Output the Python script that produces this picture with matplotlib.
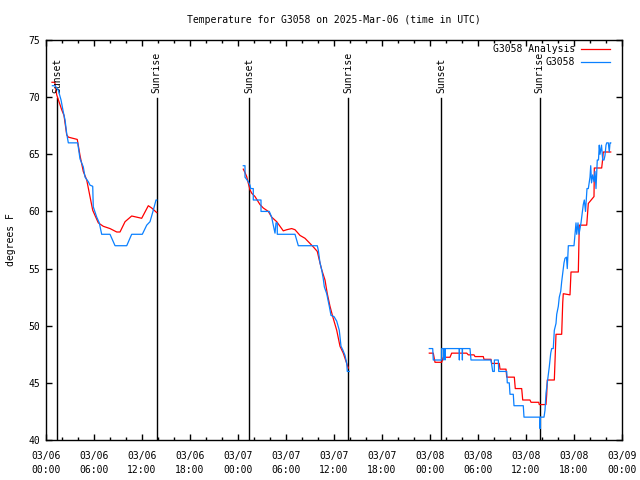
import numpy as np
import matplotlib
matplotlib.use("Agg")
import matplotlib.pyplot as plt
from matplotlib.ticker import MultipleLocator

# hours since 03/06 00:00 UTC
ana_hours = [
    0.75, 1.1, 1.34, 1.96, 2.25, 2.59, 2.79, 3.91, 4.25, 4.66, 5.09, 5.5, 5.84, 6.54, 7.16, 8.0,
    8.84, 9.25, 9.88, 10.71, 11.34, 11.96, 12.79, 13.21, 13.84,
    np.nan,
    24.66, 24.875, 25.09, 25.29, 25.5, 25.71, 26.125, 26.75, 27.16, 27.79, 28.21, 28.84, 29.25,
    29.66, 30.09, 30.71, 31.125, 31.75, 32.375, 32.79, 33.41, 33.91, 34.16, 34.46, 34.875, 35.16,
    35.5, 35.84, 36.34, 36.75, 37.16, 37.59, 37.79,
    np.nan,
    47.91, 48.41, 48.625, 49.46, 49.66, 50.5, 50.71, 52.59, 52.79, 53.5, 53.625, 54.66, 54.75,
    55.625, 55.71, 56.66, 56.75, 57.5, 57.59, 58.54, 58.66, 59.46, 59.59, 60.5, 60.625, 61.59,
    61.66, 62.5, 62.59, 62.66, 63.54, 63.75, 64.46, 64.59, 64.66, 65.5, 65.625, 66.54, 66.66,
    67.59, 67.79, 68.5, 68.54, 69.46, 69.54, 69.66, 70.59,
]
ana_temp = [
    71.3, 71.3, 70.2, 68.9, 68.4, 66.7, 66.5, 66.3, 64.9, 63.5, 62.75, 61.3, 60.1, 59.0, 58.7, 58.5,
    58.2, 58.2, 59.1, 59.6, 59.5, 59.4, 60.5, 60.3, 59.9,
    np.nan,
    63.7, 63.4, 63.04, 62.46, 61.9, 61.6, 61.3, 60.6, 60.3, 60.0, 59.5, 59.1, 58.7,
    58.3, 58.4, 58.5, 58.4, 57.9, 57.65, 57.35, 56.9, 56.5, 55.75, 54.9, 54.0, 52.8,
    51.7, 50.8, 49.6, 48.2, 47.6, 46.7, 46.3,
    np.nan,
    47.6, 47.6, 46.8, 46.8, 47.24, 47.24, 47.6, 47.6, 47.45, 47.45, 47.3, 47.3, 47.06,
    47.06, 46.7, 46.7, 46.2, 46.2, 45.5, 45.5, 44.5, 44.5, 43.5, 43.5, 43.3, 43.3,
    43.1, 43.1, 44.0, 45.25, 45.25, 49.25, 49.25, 52.0, 52.8, 52.7, 54.7, 54.7, 58.8,
    58.8, 60.7, 61.3, 63.8, 63.8, 64.3, 65.2, 65.2,
]

obs_hours = [
    0.8, 1.13, 1.54, 1.88, 2.16, 2.38, 2.59, 2.79, 3.96, 4.25, 4.66, 4.88, 5.29, 5.5, 5.84, 5.91,
    6.34, 6.66, 6.96, 8.0, 8.63, 10.09, 10.71, 12.04, 12.59, 13.0, 13.41, 13.75, 13.84,
    np.nan,
    24.66, 24.875, 24.875, 25.29, 25.5, 25.59, 25.91, 25.91, 26.875, 26.875, 27.91, 28.21, 28.41,
    28.625, 28.75, 28.91, 28.91, 31.125, 31.54, 33.91, 34.04, 34.25, 34.46, 34.66, 34.79, 35.09,
    35.41, 35.625, 36.0, 36.34, 36.66, 36.875, 37.09, 37.375, 37.59, 37.66, 37.91,
    np.nan,
    47.91, 48.34, 48.41, 49.46, 49.46, 49.69, 49.7, 49.72, 49.87, 49.88, 49.89, 51.66, 51.67,
    51.68, 52.04, 52.05, 52.06, 53.0, 53.125, 55.625, 55.84, 56.04, 56.05, 56.54, 56.59, 57.59,
    57.66, 57.91, 58.0, 58.41, 58.5, 59.66, 59.75, 61.75, 61.76, 61.8, 62.25, 62.375, 62.5,
    62.66, 62.91, 63.09, 63.21, 63.41, 63.54, 63.75, 63.84, 64.04, 64.16, 64.34, 64.46, 64.59,
    64.75, 64.875, 65.06, 65.16, 65.29, 66.0, 66.125, 66.25, 66.34, 66.5, 66.625, 66.875, 66.96,
    67.16, 67.29, 67.44, 67.625, 67.79, 68.0, 68.09, 68.19, 68.34, 68.5, 68.625, 68.75, 68.91,
    69.06, 69.16, 69.25, 69.44, 69.59, 69.75, 69.875, 70.0, 70.09, 70.29, 70.41, 70.5, 70.59,
]
obs_temp = [
    71.0, 71.0, 70.6, 69.75, 68.7, 68.0, 66.8, 66.0, 66.0, 64.6, 63.9, 63.0, 62.6, 62.3, 62.2, 60.4,
    59.5, 59.0, 58.0, 58.0, 57.0, 57.0, 58.0, 58.0, 58.8, 59.1, 60.1, 61.0, 61.0,
    np.nan,
    64.0, 64.0, 63.0, 62.6, 62.3, 62.0, 62.0, 61.0, 61.0, 60.0, 60.0, 59.5, 58.8,
    58.1, 59.0, 59.0, 58.0, 58.0, 57.0, 57.0, 56.6, 55.5, 54.9, 54.1, 53.4, 52.8,
    51.7, 50.9, 50.8, 50.4, 49.6, 48.2, 47.9, 47.4, 46.7, 46.0, 46.0,
    np.nan,
    48.0, 48.0, 47.0, 47.0, 48.0, 48.0, 47.0, 48.0, 48.0, 47.0, 48.0, 48.0, 47.0,
    48.0, 48.0, 47.0, 48.0, 48.0, 47.0, 47.0, 46.0, 46.0, 47.0, 47.0, 46.0, 46.0,
    45.0, 45.0, 44.0, 44.0, 43.0, 43.0, 42.0, 42.0, 41.0, 42.0, 42.0, 42.6, 44.1,
    45.0, 46.4, 47.6, 48.0, 48.0, 49.6, 50.2, 51.0, 51.7, 52.5, 53.0, 53.85, 54.6,
    55.5, 55.9, 56.0, 55.0, 57.0, 57.0, 58.0, 59.0, 58.0, 59.0, 58.0, 59.0, 59.5,
    60.6, 61.0, 60.0, 62.0, 62.0, 63.0, 64.0, 62.5, 63.2, 62.6, 63.5, 62.0, 64.5,
    64.5, 65.8, 65.0, 65.8, 64.5, 64.5, 64.9, 65.8, 66.0, 66.0, 65.2, 66.0, 66.0,
]

sun_hours = [1.38, 13.85, 25.38, 37.78, 49.38, 61.73]
sun_labels = ["Sunset", "Sunrise", "Sunset", "Sunrise", "Sunset", "Sunrise"]

tick_hours = list(range(0, 73, 6))
tick_labels = ["03/06\n00:00", "03/06\n06:00", "03/06\n12:00", "03/06\n18:00",
               "03/07\n00:00", "03/07\n06:00", "03/07\n12:00", "03/07\n18:00",
               "03/08\n00:00", "03/08\n06:00", "03/08\n12:00", "03/08\n18:00",
               "03/09\n00:00"]

FONT = "DejaVu Sans Mono"
FS = 7
plt.rcParams['font.family'] = [FONT]

fig = plt.figure(figsize=(6.4, 4.8), dpi=100)
ax = fig.add_axes([46/640, 40/480, 576/640, 400/480])

red = "#ff0000"
blue = "#0a80ff"
l1, = ax.plot(ana_hours, ana_temp, color=red, lw=0.9, label="G3058 Analysis", zorder=3)
l2, = ax.plot(obs_hours, obs_temp, color=blue, lw=0.9, label="G3058", zorder=4)

tr = ax.get_xaxis_transform()
for h, lab in zip(sun_hours, sun_labels):
    ax.plot([h, h], [0, 0.855], color="black", lw=1.0, transform=tr, zorder=2)
    ax.text(h, 0.8675, lab, rotation=90, ha="center", va="bottom", transform=tr,
            fontsize=FS, family=FONT)

ax.set_xlim(0, 72)
ax.set_ylim(40, 75)
ax.set_xticks(tick_hours)
ax.set_xticklabels(tick_labels, fontsize=FS, linespacing=1.5)
ax.xaxis.set_minor_locator(MultipleLocator(2))
ax.yaxis.set_major_locator(MultipleLocator(5))
for lab in ax.get_yticklabels():
    lab.set_fontsize(FS)
ax.tick_params(axis="both", which="both", direction="in", top=True, right=True,
               labelsize=FS, width=1.0)
ax.tick_params(axis="both", which="major", length=4)
ax.tick_params(axis="both", which="minor", length=2.2)
ax.tick_params(axis="x", pad=8)
ax.tick_params(axis="y", pad=4)
for sp in ax.spines.values():
    sp.set_linewidth(1.0)

ax.set_ylabel("degrees F", fontsize=FS, labelpad=9)
ax.set_title("Temperature for G3058 on 2025-Mar-06 (time in UTC)", fontsize=FS, pad=12)

ax.legend(handles=[l1, l2], loc="upper right", bbox_to_anchor=(0.979, 0.99),
          markerfirst=False, frameon=False, fontsize=FS, handlelength=3.0,
          handletextpad=0.6, labelspacing=0.35, borderpad=0, borderaxespad=0)

fig.savefig("out.png", dpi=100)
